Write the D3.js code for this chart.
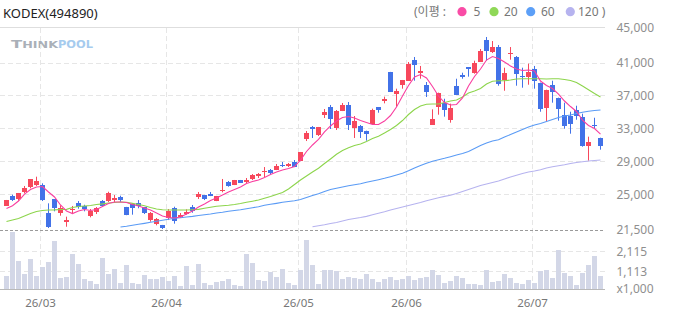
<!DOCTYPE html>
<html>
<head>
<meta charset="utf-8">
<script src="https://cdn.jsdelivr.net/npm/d3@7"></script>
<style>
  html, body { margin: 0; padding: 0; background: #fff; }
  svg { display: block; font-family: 'Noto Sans', 'Noto Sans CJK KR', sans-serif; }
</style>
</head>
<body>
<div id="chart"></div>
<script>
/*
 * KODEX(494890) daily candles, 26/02 – 26/07, with 5/20/60/120 moving averages
 * and a volume pane underneath.
 */

const TITLE = 'KODEX(494890)';

// trading days 0..99; first day of each month
const MONTH_LABELS = ['26/03', '26/04', '26/05', '26/06', '26/07'];
const MONTH_START  = [6, 27, 49, 67, 88];

const OPEN = [
  23660, 24880, 24480, 25330, 25930, 26210, 26210, 22780, 24440, 22810,
  21650, 23100, 23990, 23590, 22370, 22900, 24230, 24230, 24350, 24680,
  23500, 23900, 24030, 23470, 21920, 21480, 21320, 22200, 23380, 22290,
  22650, 23470, 24680, 24960, 25080, 24230, 25450, 26540, 26180, 26780,
  26540, 26910, 27270, 27760, 28000, 28000, 28610, 28490, 28970, 29090,
  31770, 33220, 32250, 34680, 35650, 33100, 35170, 35900, 33100, 33350,
  32770, 33620, 35620, 36350, 39910, 37270, 38360, 38850, 41360, 39790,
  38330, 33500, 35690, 36180, 34110, 38240, 39580, 40480, 39820, 41160,
  43790, 42370, 42940, 38970, 42090, 41730, 39420, 39300, 40310, 38610,
  35570, 38360, 36780, 34720, 34600, 35330, 34440, 30950, 33500, 31920,
];
const HIGH = [
  24360, 25000, 25210, 26060, 26880, 27190, 26380, 23950, 24450, 23710,
  22330, 23630, 24230, 23780, 23260, 23500, 24350, 25360, 24960, 24880,
  23520, 23910, 24350, 23480, 22900, 22170, 21330, 23260, 23540, 22780,
  23220, 23750, 25330, 24970, 25330, 24850, 26910, 26660, 26790, 26790,
  27030, 27510, 27630, 28360, 28120, 28730, 28970, 28850, 29210, 30190,
  32740, 33350, 33230, 35410, 35900, 35290, 36140, 36260, 34560, 33470,
  32780, 35450, 35630, 36910, 39920, 37880, 38940, 41120, 41730, 40640,
  38690, 35370, 37400, 36660, 36060, 39090, 39820, 40490, 41280, 42700,
  44160, 43670, 43190, 40430, 42940, 41850, 40430, 40920, 40640, 38620,
  37760, 38850, 36790, 36180, 35080, 35810, 34840, 32050, 34350, 31930,
];
const LOW = [
  23650, 24230, 24270, 25170, 25780, 26060, 24230, 20950, 22980, 22450,
  21110, 22650, 23300, 22980, 22250, 22650, 23600, 24110, 23990, 24110,
  22510, 22570, 23350, 22650, 21720, 21280, 20830, 21920, 21480, 22200,
  22570, 22810, 24480, 24350, 24830, 24220, 25290, 25970, 26170, 26450,
  26420, 26780, 27030, 27150, 27510, 27990, 28360, 28360, 28350, 29080,
  31520, 31890, 32130, 34320, 32980, 32860, 35160, 32860, 31890, 31890,
  31560, 33610, 34960, 36100, 37500, 35690, 37880, 38840, 38850, 39090,
  36870, 33490, 34720, 34480, 33750, 37140, 39090, 39340, 39700, 41150,
  41280, 42220, 38240, 37630, 41400, 38240, 38000, 38360, 37880, 35080,
  33870, 36180, 33990, 33020, 32410, 34110, 30830, 29130, 33020, 30470,
];
const CLOSE = [
  24350, 24350, 25200, 25780, 26870, 26700, 24350, 21070, 23420, 23380,
  21960, 23260, 23500, 23300, 22980, 23380, 23630, 25200, 24560, 24390,
  22530, 23420, 23660, 22810, 22780, 22050, 20920, 23020, 21800, 22530,
  22900, 23020, 25080, 24480, 24840, 24840, 25570, 26090, 26780, 26460,
  26780, 27390, 27510, 27880, 27630, 28490, 28490, 28730, 28360, 30190,
  32500, 32980, 33220, 35050, 34200, 35170, 35900, 33470, 33950, 32620,
  32410, 35330, 35330, 36590, 37510, 37560, 38930, 40880, 40760, 40030,
  37480, 34230, 37390, 35330, 35570, 37150, 39340, 40270, 41040, 42490,
  42490, 42940, 38490, 39820, 42250, 39700, 39300, 39940, 38850, 35450,
  37760, 37510, 35450, 33380, 33630, 34600, 30950, 31440, 33380, 30950,
];
// volume, thousands of shares
const VOLUME = [
   902, 3078, 1653, 1000, 1751,  902, 1344, 1604, 2635,  804,
   853, 1982, 1491,  755,  656,  509, 1786, 1000, 1245,  558,
  1442,  558,  509,  951,  755,  755,  853,  656,  902,  411,
  1393,  460, 1491,  558,  460,  607,  656,  755,  460,  411,
  1982, 1540,  705,  656, 1098,  853, 1245,  558,  460, 1196,
  2669, 1442,  509, 1196, 1196, 1147,  755,  853,  804,  755,
  1000,  755,  607,  755,  853,  705,  755,  902,  705,  804,
   853, 1196,  951,  558,  656,  902,  804,  509,  509,  460,
  1196,  607,  656, 1000,  804,  558,  509,  705,  558, 1147,
  1196,  804, 2164, 1049,  902,  460, 1049, 1442, 1884,  902,
];

// moving averages as drawn (MA60 starts at day 19, MA120 at day 51)
const MA5 = [
  23320, 23660, 24230, 25080, 25630, 25930, 25990, 25330, 24720, 23750,
  23020, 22710, 23020, 23200, 23080, 23200, 23560, 23930, 24110, 24110,
  24050, 23810, 23630, 23380, 23140, 22780, 22410, 22230, 22170, 22290,
  22650, 23020, 23500, 23870, 24290, 24600, 24960, 25330, 25630, 25930,
  26360, 26600, 26780, 27090, 27450, 27760, 28000, 28180, 28420, 29210,
  30250, 31040, 31710, 32620, 33350, 33950, 34380, 34500, 34320, 34010,
  33770, 33530, 33530, 33950, 34620, 35650, 36990, 38270, 39300, 39600,
  39180, 38140, 36990, 36200, 35900, 35960, 36750, 38210, 39360, 40270,
  41360, 41790, 41550, 41120, 40640, 40270, 40090, 40150, 40030, 38810,
  38270, 37900, 37230, 36380, 35710, 35110, 34070, 33410, 33040, 32370,
];
const MA20 = [
  21740, 21920, 22110, 22410, 22710, 22960, 23080, 23140, 23160, 23200,
  23220, 23440, 23560, 23630, 23690, 23810, 23890, 23990, 24050, 24110,
  24080, 23950, 23810, 23660, 23440, 23260, 23180, 23140, 23140, 23140,
  23140, 23180, 23220, 23350, 23470, 23590, 23660, 23710, 23810, 23930,
  24080, 24210, 24350, 24560, 24780, 25020, 25270, 25690, 26240, 26780,
  27270, 27760, 28210, 28790, 29340, 29910, 30370, 30710, 30980, 31160,
  31460, 31830, 32090, 32495, 32920, 33410, 34010, 34740, 35350, 35780,
  35980, 36020, 36020, 36200, 36380, 36500, 36870, 37360, 37600, 37900,
  38450, 38780, 38840, 38850, 38930, 39060, 39090, 39090, 39090, 39080,
  39060, 39090, 39090, 39000, 38870, 38630, 38210, 37760, 37290, 36870,
];
const MA60_START = 19;
const MA60 = [
                                                                  21070,
  21160, 21280, 21400, 21520, 21650, 21770, 21890, 22010, 22130, 22200,
  22290, 22370, 22470, 22560, 22650, 22780, 22860, 22980, 23080, 23180,
  23300, 23420, 23540, 23710, 23830, 23950, 24080, 24170, 24270, 24420,
  24660, 24900, 25120, 25390, 25630, 25780, 25930, 26090, 26210, 26320,
  26510, 26660, 26820, 26990, 27190, 27390, 27600, 27910, 28240, 28550,
  28810, 29060, 29250, 29420, 29620, 29820, 30000, 30250, 30610, 30980,
  31280, 31520, 31680, 32010, 32310, 32620, 32920, 33220, 33470, 33650,
  33890, 34140, 34380, 34560, 34680, 34860, 35010, 35130, 35230, 35290,
];
const MA120_START = 51;
const MA120 = [
         21100, 21220, 21340, 21500, 21620, 21800, 21990, 22110, 22230,
  22370, 22560, 22740, 22930, 23140, 23320, 23500, 23690, 23870, 24050,
  24260, 24440, 24620, 24800, 24940, 25140, 25390, 25630, 25870, 26120,
  26300, 26480, 26660, 26910, 27150, 27360, 27570, 27760, 27880, 28040,
  28240, 28390, 28510, 28640, 28790, 28910, 29010, 29090, 29150, 29210,
];

const PRICE_TICKS = [41000, 37000, 33000, 29000, 25000];
const PRICE_TOP_LABEL = 45000;
const PRICE_BOTTOM_LABEL = 21500;
const VOL_TICKS = [2115, 1113];
const VOL_UNIT = 'x1,000';

const LEGEND = [
  { label: '5',   color: '#f94ca6' },
  { label: '20',  color: '#8fd857' },
  { label: '60',  color: '#5c9ff7' },
  { label: '120', color: '#b6b3ef' },
];

/* ------------------------------------------------------------------ */

const W = 673, H = 315;
const PLOT_R = 605;
const PRICE_TOP = 28, PRICE_BOTTOM = 230, VOL_BASE = 289;
const UP = '#f7485c', DOWN = '#4272e8';
const GRID = '#e6e6e6';
const LABEL_X = 616.5;

const svg = d3.select('#chart').append('svg')
  .attr('width', W).attr('height', H)
  .attr('viewBox', `0 0 ${W} ${H}`);

const N = CLOSE.length;
const x = d3.scaleBand()
  .domain(d3.range(N))
  .range([3.5, 603.5])
  .paddingInner(1 / 6)
  .paddingOuter(1 / 12);
const bw = x.bandwidth();
const cx = i => x(i) + bw / 2;

const y  = d3.scaleLinear().domain([25000, 41000]).range([194.7, 63]);
const yv = d3.scaleLinear().domain([1113, 2115]).range([271.7, 251.3]);
const fmt = d3.format(',');
const crisp = v => Math.floor(v) + 0.5;

// Header
svg.append('text')
  .attr('x', 3).attr('y', 18)
  .attr('font-size', 13).attr('fill', '#222')
  .text(TITLE);

const leg = svg.append('g').attr('font-size', 12).attr('fill', '#777');
leg.append('text').attr('x', 414).attr('y', 16).text('(이평 :');
const legX = [{ dot: 462, txt: 473.5 }, { dot: 494, txt: 504 }, { dot: 530.7, txt: 541 }, { dot: 570.3, txt: 578 }];
LEGEND.forEach((d, k) => {
  leg.append('circle').attr('cx', legX[k].dot).attr('cy', 11.7).attr('r', 4.6).attr('fill', d.color);
  leg.append('text').attr('x', legX[k].txt).attr('y', 16)
    .text(k === LEGEND.length - 1 ? `${d.label} )` : d.label);
});

// Watermark
const wm = svg.append('g').attr('font-family', "'DejaVu Sans', sans-serif").attr('font-weight', 'bold');
const wmThink = wm.append('text').attr('x', 11).attr('y', 48).attr('fill', '#aab0b8')
  .attr('textLength', 47).attr('lengthAdjust', 'spacingAndGlyphs');
wmThink.append('tspan').attr('font-size', 11).text('T');
wmThink.append('tspan').attr('font-size', 8.5).text('HINK');
wm.append('text').attr('x', 58).attr('y', 48).attr('fill', '#a6cbee')
  .attr('font-size', 11).attr('textLength', 35).attr('lengthAdjust', 'spacingAndGlyphs')
  .text('POOL');

// Grid
const grid = svg.append('g');
grid.append('line')
  .attr('x1', 0).attr('x2', PLOT_R).attr('y1', 27.5).attr('y2', 27.5)
  .attr('stroke', '#dedede');

PRICE_TICKS.forEach(v => {
  grid.append('line')
    .attr('x1', 0).attr('x2', PLOT_R).attr('y1', crisp(y(v))).attr('y2', crisp(y(v)))
    .attr('stroke', GRID).attr('stroke-dasharray', '5,3');
});
VOL_TICKS.forEach(v => {
  grid.append('line')
    .attr('x1', 0).attr('x2', PLOT_R).attr('y1', crisp(yv(v))).attr('y2', crisp(yv(v)))
    .attr('stroke', GRID).attr('stroke-dasharray', '5,3');
});
MONTH_START.forEach(i => {
  grid.append('line')
    .attr('x1', x(i) + 0.5).attr('x2', x(i) + 0.5)
    .attr('y1', PRICE_TOP).attr('y2', VOL_BASE + 1)
    .attr('stroke', GRID).attr('stroke-dasharray', '5,3');
});

// Volume bars
svg.append('g').selectAll('rect')
  .data(VOLUME)
  .enter().append('rect')
  .attr('x', (_, i) => x(i))
  .attr('y', d => Math.round(yv(d)))
  .attr('width', bw)
  .attr('height', d => VOL_BASE - Math.round(yv(d)))
  .attr('fill', '#d3d7e7');

svg.append('line')
  .attr('x1', 0).attr('x2', PLOT_R).attr('y1', VOL_BASE + 0.5).attr('y2', VOL_BASE + 0.5)
  .attr('stroke', '#b9b9b9');

// Pane separator
svg.append('line')
  .attr('x1', 0).attr('x2', PLOT_R).attr('y1', PRICE_BOTTOM + 0.5).attr('y2', PRICE_BOTTOM + 0.5)
  .attr('stroke', '#9a9a9a').attr('stroke-dasharray', '3,2');

// Candles
const candles = svg.append('g').selectAll('g')
  .data(d3.range(N))
  .enter().append('g')
  .attr('fill', i => CLOSE[i] >= OPEN[i] ? UP : DOWN)
  .attr('stroke', i => CLOSE[i] >= OPEN[i] ? UP : DOWN);

candles.append('line')
  .attr('x1', cx).attr('x2', cx)
  .attr('y1', i => y(HIGH[i])).attr('y2', i => y(LOW[i]))
  .attr('stroke-width', 1);

candles.append('rect')
  .attr('stroke', 'none')
  .attr('x', i => x(i))
  .attr('width', bw)
  .attr('y', i => Math.round(y(Math.max(OPEN[i], CLOSE[i]))))
  .attr('height', i => Math.max(1, Math.round(y(Math.min(OPEN[i], CLOSE[i]))) - Math.round(y(Math.max(OPEN[i], CLOSE[i])))));

// Moving averages
const maLine = d3.line().x(d => cx(d.i)).y(d => y(d.v));
[
  { vals: MA120, start: MA120_START, color: LEGEND[3].color },
  { vals: MA60,  start: MA60_START,  color: '#5a9bf5' },
  { vals: MA20,  start: 0,           color: '#8dd54c' },
  { vals: MA5,   start: 0,           color: '#f93fa0' },
].forEach(s => {
  svg.append('path')
    .datum(s.vals.map((v, k) => ({ i: s.start + k, v })))
    .attr('d', maLine)
    .attr('fill', 'none')
    .attr('stroke', s.color)
    .attr('stroke-width', 1.1);
});

// Axis labels
const axis = svg.append('g').attr('font-size', 12).attr('fill', '#8f8f8f');
[[PRICE_TOP_LABEL, PRICE_TOP], ...PRICE_TICKS.map(v => [v, y(v)]), [PRICE_BOTTOM_LABEL, PRICE_BOTTOM]]
  .forEach(([v, py]) => {
    axis.append('text').attr('x', LABEL_X).attr('y', py + 4.3).text(fmt(v));
  });
VOL_TICKS.forEach(v => {
  axis.append('text').attr('x', LABEL_X).attr('y', yv(v) + 4.3).text(fmt(v));
});
axis.append('text').attr('x', LABEL_X).attr('y', VOL_BASE + 4.3).text(VOL_UNIT);

MONTH_START.forEach((i, k) => {
  svg.append('text')
    .attr('x', x(i) + 0.5).attr('y', 307)
    .attr('text-anchor', 'middle')
    .attr('font-size', 11.5).attr('fill', '#777')
    .text(MONTH_LABELS[k]);
});
</script>
</body>
</html>
